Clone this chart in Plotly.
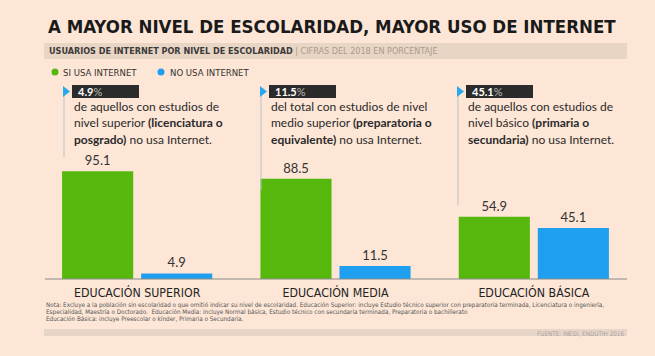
import plotly.graph_objects as go

# ---------------- data ----------------
categories = ["EDUCACIÓN SUPERIOR", "EDUCACIÓN MEDIA", "EDUCACIÓN BÁSICA"]
si_usa = [95.1, 88.5, 54.9]
no_usa = [4.9, 11.5, 45.1]
series_names = ["SI USA INTERNET", "NO USA INTERNET"]
callout_lines = [
    ["de aquellos con estudios de", "nivel superior <b>(licenciatura o</b>", "<b>posgrado)</b> no usa Internet."],
    ["del total con estudios de nivel", "medio superior <b>(preparatoria o</b>", "<b>equivalente)</b> no usa Internet."],
    ["de aquellos con estudios de", "nivel básico <b>(primaria o</b>", "<b>secundaria)</b> no usa Internet."],
]
title = "A MAYOR NIVEL DE ESCOLARIDAD, MAYOR USO DE INTERNET"
subtitle_bold = "USUARIOS DE INTERNET POR NIVEL DE ESCOLARIDAD"
subtitle_rest = " | CIFRAS DEL 2018 EN PORCENTAJE"
note_lines = [
    "Nota: Excluye a la población sin escolaridad o que omitió indicar su nivel de escolaridad. Educación Superior: incluye Estudio técnico superior con preparatoria terminada, Licenciatura o ingeniería,",
    "Especialidad, Maestría o Doctorado.  Educación Media: incluye Normal básica, Estudio técnico con secundaria terminada, Preparatoria o bachillerato",
    "Educación Básica: incluye Preescolar o kínder, Primaria o Secundaria.",
]
source = "FUENTE: INEGI, ENDUTIH 2016"

# ---------------- styles ----------------
W, H = 655, 356
ML, MR, MT, MB = 38, 22, 40, 77
PW, PH = W - ML - MR, H - MT - MB
BG = "#fde6d6"
GREEN = "#56b80c"
BLUE = "#1e9ff0"
NARROW = "DejaVu Sans Condensed, Liberation Sans Narrow, sans-serif"
BODY = "Lato, Liberation Sans, sans-serif"


def X(px):
    return (px - ML) / PW


def Y(py):
    return (H - MB - py) / PH


fig = go.Figure()
fig.add_trace(go.Bar(
    x=categories, y=si_usa, name=series_names[0], marker=dict(color=GREEN, line=dict(width=0)),
    text=[f"{v}" for v in si_usa], textposition="outside", cliponaxis=False,
    textfont=dict(family=BODY, size=13, color="#333333"), showlegend=False,
))
fig.add_trace(go.Bar(
    x=categories, y=no_usa, name=series_names[1], marker=dict(color=BLUE, line=dict(width=0)),
    text=[f"{v}" for v in no_usa], textposition="outside", cliponaxis=False,
    textfont=dict(family=BODY, size=13, color="#333333"), showlegend=False,
))

shapes = []
ann = []

# title & subtitle
ann.append(dict(x=X(46), y=Y(27), text=f"<b>{title}</b>", xanchor="left", yanchor="middle",
                font=dict(family=NARROW, size=18.5, color="#1a1a1a")))
shapes.append(dict(type="rect", xref="paper", yref="paper", x0=X(44), x1=X(627), y0=Y(59), y1=Y(43),
                   fillcolor="#e9d5c4", line=dict(width=0), layer="below"))
ann.append(dict(x=X(47), y=Y(51), xanchor="left", yanchor="middle",
                text=f"<b>{subtitle_bold}</b><span style='color:#a89a90'>{subtitle_rest}</span>",
                font=dict(family=NARROW, size=9, color="#3a3a3a")))

# legend
for cx, tx, col, name in [(55, 61, GREEN, series_names[0]), (161, 168, BLUE, series_names[1])]:
    shapes.append(dict(type="circle", xref="paper", yref="paper", x0=X(cx - 3.5), x1=X(cx + 3.5),
                       y0=Y(75.5), y1=Y(68.5), fillcolor=col, line=dict(width=0)))
    ann.append(dict(x=X(tx), y=Y(72), text=name, xanchor="left", yanchor="middle",
                    font=dict(family=NARROW, size=9.5, color="#333333")))

# callouts
line_x = [64, 261, 458]
line_end = [157, 190, 205]
for i, lx in enumerate(line_x):
    shapes.append(dict(type="line", xref="paper", yref="paper", x0=X(lx), x1=X(lx), y0=Y(88), y1=Y(line_end[i]),
                       line=dict(color="#b9c4c8", width=1)))
    shapes.append(dict(type="rect", xref="paper", yref="paper", x0=X(lx + 8), x1=X(lx + 75), y0=Y(98), y1=Y(85),
                       fillcolor="#2b2b2b", line=dict(width=0)))
    shapes.append(dict(type="path", xref="paper", yref="paper",
                       path=f"M {X(lx - 1)} {Y(86)} L {X(lx + 6)} {Y(91.5)} L {X(lx - 1)} {Y(97)} Z",
                       fillcolor="#2aa8ee", line=dict(width=0)))
    ann.append(dict(x=X(lx + 12), y=Y(91.5), xanchor="left", yanchor="middle",
                    text=f"<b>{no_usa[i]}</b><span style='color:#bbbbbb'>%</span>",
                    font=dict(family=BODY, size=11, color="#ffffff")))
    for j, t in enumerate(callout_lines[i]):
        ann.append(dict(x=X(lx + 8), y=Y(106 + j * 16.5), xanchor="left", yanchor="middle", text=t,
                        font=dict(family=BODY, size=12, color="#2a2a2a")))

# baseline
shapes.append(dict(type="line", xref="paper", yref="paper", x0=X(45), x1=X(627), y0=Y(279), y1=Y(279),
                   line=dict(color="#8a8a8a", width=1)))

# notes
for j, t in enumerate(note_lines):
    ann.append(dict(x=X(44), y=Y(305 + j * 6.8), xanchor="left", yanchor="middle", text=t,
                    font=dict(family=NARROW, size=6.3, color="#555555")))
shapes.append(dict(type="rect", xref="paper", yref="paper", x0=X(44), x1=X(627), y0=Y(336), y1=Y(329),
                   fillcolor="#e7d6c8", line=dict(width=0), layer="below"))
ann.append(dict(x=X(626), y=Y(333), xanchor="right", yanchor="middle", text=source,
                font=dict(family=NARROW, size=6.3, color="#a8a0a0")))

for a in ann:
    a.update(xref="paper", yref="paper", showarrow=False)

fig.update_layout(
    width=W, height=H, margin=dict(l=ML, r=MR, t=MT, b=MB, autoexpand=False),
    paper_bgcolor=BG, plot_bgcolor=BG,
    barmode="group", bargap=0.203, bargroupgap=0.1,
    xaxis=dict(showgrid=False, zeroline=False, showline=False, ticks="", automargin=False,
               ticklabelstandoff=5,
               tickfont=dict(family=NARROW, size=12.3, color="#222222"), fixedrange=True),
    yaxis=dict(range=[0, PH / 1.133], visible=False, fixedrange=True),
    shapes=shapes, annotations=ann, showlegend=False,
)

fig.write_html("out.html", config={"displayModeBar": False},
               post_script="document.body.style.margin='0';document.body.style.background='" + BG + "';")
